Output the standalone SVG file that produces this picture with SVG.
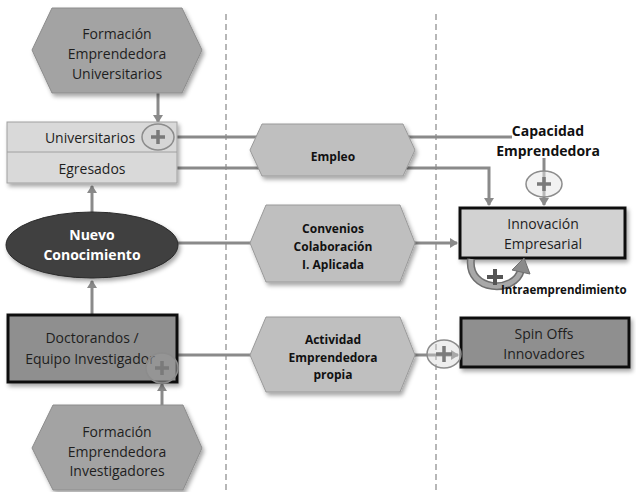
<svg xmlns="http://www.w3.org/2000/svg" width="636" height="492" viewBox="0 0 636 492">
<defs>
<filter id="sh" x="-20%" y="-20%" width="140%" height="150%">
<feDropShadow dx="2" dy="3" stdDeviation="2" flood-color="#000" flood-opacity="0.35"/>
</filter>
<marker id="ah" markerWidth="10" markerHeight="10" refX="7" refY="5" orient="auto" markerUnits="userSpaceOnUse">
<path d="M0,0 L8,5 L0,10 Z" fill="#8a8a8a"/>
</marker>
<style>
.t{font-family:"Open Sans","Noto Sans","DejaVu Sans",sans-serif;font-size:14px;fill:#1e1e1e;text-anchor:middle;dominant-baseline:central}
.b{font-family:"Open Sans","Noto Sans","DejaVu Sans",sans-serif;font-weight:bold;font-size:12px;fill:#111;text-anchor:middle;dominant-baseline:central}
.w{fill:#fff;font-weight:bold}
.hexA{fill:#a3a3a3;stroke:#8c8c8c;stroke-width:1;filter:url(#sh)}
.hexB{fill:#bfbfbf;stroke:#9a9a9a;stroke-width:1;filter:url(#sh)}
.c{fill:none;stroke:#8a8a8a;stroke-width:3}
.dash{stroke:#888;stroke-width:1.2;stroke-dasharray:6,4;fill:none}
.plc{fill:#d4d4d4;stroke:#8c8c8c;stroke-width:1.5;fill-opacity:0.85}
.pl{stroke:#7a7a7a;stroke-width:3.5;fill:none}
</style>
</defs>
<rect width="636" height="492" fill="#fff"/>
<g id="lanes">
<line class="dash" x1="226" y1="14" x2="226" y2="492"/>
<line class="dash" x1="436" y1="14" x2="436" y2="492"/>
</g>
<g id="connectors">
<path class="c" d="M158,93 V122" marker-end="url(#ah)"/>
<path class="c" d="M174,137 H512"/>
<path class="c" d="M177,168 H489 V205" marker-end="url(#ah)"/>
<path class="c" d="M544,158 V205" marker-end="url(#ah)"/>
<path class="c" d="M178,243 H457" marker-end="url(#ah)"/>
<path class="c" d="M92,212 V186" marker-end="url(#ah)"/>
<path class="c" d="M92,315 V281" marker-end="url(#ah)"/>
<path class="c" d="M177,355 H458" marker-end="url(#ah)"/>
<path class="c" d="M162,405 V384" marker-end="url(#ah)"/>
</g>
<g id="formacion-universitarios">
<polygon class="hexA" points="52,8 182,8 202,50 182,93 52,93 32,50"/>
<text class="t" x="117" y="33">Formación</text>
<text class="t" x="117" y="53">Emprendedora</text>
<text class="t" x="117" y="73">Universitarios</text>
</g>
<g id="universitarios-egresados">
<rect x="7" y="122" width="170" height="61" fill="#d9d9d9" stroke="#a0a0a0" stroke-width="1" filter="url(#sh)"/>
<line x1="7" y1="152" x2="177" y2="152" stroke="#a0a0a0" stroke-width="1"/>
<text class="t" x="90" y="137">Universitarios</text>
<text class="t" x="92" y="168">Egresados</text>
<ellipse class="plc" cx="158" cy="137" rx="16" ry="13"/>
<path class="pl" d="M151,137 H165 M158,130 V144"/>
</g>
<g id="nuevo-conocimiento">
<ellipse cx="92" cy="245" rx="86" ry="33" fill="#3f3f3f" stroke="#2a2a2a" stroke-width="1" filter="url(#sh)"/>
<text class="t w" x="92" y="234">Nuevo</text>
<text class="t w" x="92" y="254">Conocimiento</text>
</g>
<g id="doctorandos">
<rect x="8" y="315" width="169" height="67" fill="#8f8f8f" stroke="#111" stroke-width="3" filter="url(#sh)"/>
<text class="t" x="92" y="337">Doctorandos /</text>
<text class="t" x="90" y="358">Equipo Investigador</text>
<ellipse cx="162" cy="368" rx="16" ry="15" fill="#9a9a9a" fill-opacity="0.6" stroke="#8c8c8c" stroke-width="1.5"/>
<path class="pl" d="M155,368 H169 M162,361 V375"/>
</g>
<g id="formacion-investigadores">
<polygon class="hexA" points="53,405 183,405 202,448 183,490 53,490 32,448"/>
<text class="t" x="117" y="431">Formación</text>
<text class="t" x="117" y="451">Emprendedora</text>
<text class="t" x="117" y="470">Investigadores</text>
</g>
<g id="empleo">
<polygon class="hexB" points="262,124 403,124 415,150 403,176 262,176 250,150"/>
<text class="b" x="333" y="156">Empleo</text>
</g>
<g id="convenios">
<polygon class="hexB" points="266,205 400,205 415,243 400,282 266,282 250,243"/>
<text class="b" x="333" y="228">Convenios</text>
<text class="b" x="333" y="246">Colaboración</text>
<text class="b" x="333" y="264">I. Aplicada</text>
</g>
<g id="actividad">
<polygon class="hexB" points="266,317 400,317 415,355 400,392 266,392 250,355"/>
<text class="b" x="333" y="339">Actividad</text>
<text class="b" x="333" y="357">Emprendedora</text>
<text class="b" x="333" y="374">propia</text>
</g>
<g id="capacidad-emprendedora">
<text class="b" x="548" y="130" style="font-size:14px">Capacidad</text>
<text class="b" x="548" y="150" style="font-size:14px">Emprendedora</text>
<ellipse cx="544" cy="184" rx="18" ry="13" fill="#e6e6e6" fill-opacity="0.5" stroke="#8c8c8c" stroke-width="1.5"/>
<path class="pl" d="M537,184 H551 M544,177 V191"/>
</g>
<g id="innovacion-empresarial">
<rect x="460" y="208" width="165" height="50" fill="#d2d2d2" stroke="#111" stroke-width="3" filter="url(#sh)"/>
<text class="t" x="543" y="223">Innovación</text>
<text class="t" x="543" y="243">Empresarial</text>
</g>
<g id="intraemprendimiento">
<path d="M471,259 C467,292 515,294 521,270" fill="none" stroke="#6f6f6f" stroke-width="8"/>
<path d="M471,259 C467,292 515,294 521,270" fill="none" stroke="#a8a8a8" stroke-width="5"/>
<path d="M512,270 L524,258 L530,274 Z" fill="#8a8a8a" stroke="#6f6f6f" stroke-width="1"/>
<path d="M487,277 H503 M495,269 V285" stroke="#555" stroke-width="4" fill="none"/>
<text class="b" x="501" y="289" style="font-size:11.5px;text-anchor:start">Intraemprendimiento</text>
</g>
<g id="spin-offs">
<rect x="461" y="318" width="168" height="49" fill="#8f8f8f" stroke="#111" stroke-width="3" filter="url(#sh)"/>
<text class="t" x="544" y="333">Spin Offs</text>
<text class="t" x="544" y="353">Innovadores</text>
<ellipse cx="444" cy="354" rx="17" ry="14" fill="#d4d4d4" fill-opacity="0.4" stroke="#8c8c8c" stroke-width="1.5"/>
<path class="pl" d="M436,354 H452 M444,346 V362"/>
</g>
</svg>
